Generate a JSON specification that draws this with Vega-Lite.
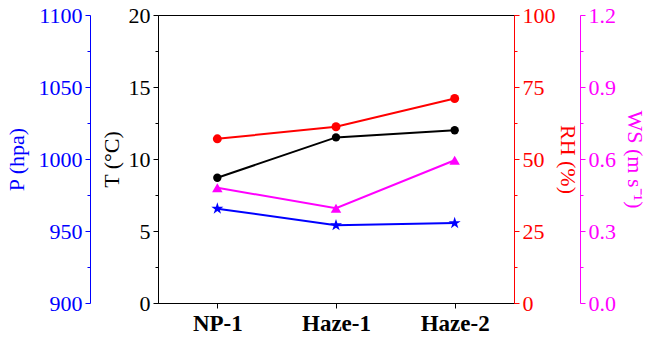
{
  "$schema": "https://vega.github.io/schema/vega-lite/v6.json",
  "autosize": {"type": "none"},
  "padding": {"left": 158, "top": 15, "right": 134, "bottom": 39},
  "width": 356,
  "height": 288,
  "background": "white",
  "config": {
    "font": "Liberation Serif, Times New Roman, serif",
    "view": {"stroke": "black", "strokeWidth": 1},
    "axis": {
      "labelFont": "Liberation Serif, Times New Roman, serif",
      "titleFont": "Liberation Serif, Times New Roman, serif",
      "labelFontSize": 22,
      "titleFontSize": 22,
      "titleFontWeight": "normal",
      "grid": false,
      "tickSize": 5,
      "labelPadding": 3,
      "domainWidth": 1,
      "tickWidth": 1
    }
  },
  "data": {
    "values": [
      {"period": "NP-1", "P": 965.5, "T": 8.7, "RH": 57, "WS": 0.48},
      {"period": "Haze-1", "P": 954, "T": 11.5, "RH": 61.2, "WS": 0.395},
      {"period": "Haze-2", "P": 955.5, "T": 12.0, "RH": 71, "WS": 0.595}
    ]
  },
  "encoding": {
    "x": {
      "field": "period",
      "type": "nominal",
      "sort": ["NP-1", "Haze-1", "Haze-2"],
      "scale": {"type": "point", "padding": 0.5},
      "axis": {
        "title": null,
        "labelAngle": 0,
        "labelFontWeight": "bold",
        "labelFontSize": 23,
        "labelColor": "black",
        "domainColor": "black",
        "tickColor": "black",
        "labelPadding": 4
      }
    }
  },
  "layer": [
    {
      "mark": {"type": "line", "color": "blue", "strokeWidth": 2,
        "point": {"shape": "M0,-1L0.2245,-0.309L0.951,-0.309L0.363,0.118L0.588,0.809L0,0.382L-0.588,0.809L-0.363,0.118L-0.951,-0.309L-0.2245,-0.309Z", "size": 160, "filled": true, "color": "blue"}},
      "encoding": {
        "y": {
          "field": "P", "type": "quantitative",
          "scale": {"domain": [900, 1100], "nice": false, "zero": false},
          "axis": {
            "orient": "left", "offset": 68, "title": "P (hpa)",
            "values": [900, 925, 950, 975, 1000, 1025, 1050, 1075, 1100],
            "labelExpr": "datum.value % 50 == 0 ? format(datum.value, 'd') : ''",
            "tickSize": {"condition": {"test": "datum.value % 50 != 0", "value": 3}, "value": 5},
            "domainColor": "blue", "tickColor": "blue", "labelColor": "blue", "titleColor": "blue",
            "titlePadding": 10
          }
        }
      }
    },
    {
      "mark": {"type": "line", "color": "magenta", "strokeWidth": 2,
        "point": {"shape": "triangle-up", "size": 110, "filled": true, "color": "magenta"}},
      "encoding": {
        "y": {
          "field": "WS", "type": "quantitative",
          "scale": {"domain": [0, 1.2], "nice": false},
          "axis": {
            "orient": "right", "offset": 66, "title": "WS (m s⁻¹)",
            "values": [0, 0.15, 0.3, 0.45, 0.6, 0.75, 0.9, 1.05, 1.2],
            "labelExpr": "abs(datum.value/0.3 - round(datum.value/0.3)) < 0.001 ? format(datum.value, '.1f') : ''",
            "tickSize": {"condition": {"test": "abs(datum.value/0.3 - round(datum.value/0.3)) >= 0.001", "value": 3}, "value": 5},
            "domainColor": "magenta", "tickColor": "magenta", "labelColor": "magenta", "titleColor": "magenta",
            "titlePadding": 7
          }
        }
      }
    },
    {
      "mark": {"type": "line", "color": "black", "strokeWidth": 2,
        "point": {"shape": "circle", "size": 70, "filled": true, "color": "black"}},
      "encoding": {
        "y": {
          "field": "T", "type": "quantitative",
          "scale": {"domain": [0, 20], "nice": false},
          "axis": {
            "orient": "left", "offset": 0, "title": "T (°C)",
            "values": [0, 2.5, 5, 7.5, 10, 12.5, 15, 17.5, 20],
            "labelExpr": "datum.value % 5 == 0 ? format(datum.value, 'd') : ''",
            "tickSize": {"condition": {"test": "datum.value % 5 != 0", "value": 3}, "value": 5},
            "domainColor": "black", "tickColor": "black", "labelColor": "black", "titleColor": "black",
            "titlePadding": 5
          }
        }
      }
    },
    {
      "mark": {"type": "line", "color": "red", "strokeWidth": 2,
        "point": {"shape": "circle", "size": 80, "filled": true, "color": "red"}},
      "encoding": {
        "y": {
          "field": "RH", "type": "quantitative",
          "scale": {"domain": [0, 100], "nice": false},
          "axis": {
            "orient": "right", "offset": 0, "title": "RH (%)",
            "values": [0, 12.5, 25, 37.5, 50, 62.5, 75, 87.5, 100],
            "labelExpr": "datum.value % 25 == 0 ? format(datum.value, 'd') : ''",
            "tickSize": {"condition": {"test": "datum.value % 25 != 0", "value": 3}, "value": 5},
            "domainColor": "red", "tickColor": "red", "labelColor": "red", "titleColor": "red",
            "titlePadding": 0
          }
        }
      }
    }
  ],
  "resolve": {"scale": {"y": "independent"}, "axis": {"y": "independent"}}
}
